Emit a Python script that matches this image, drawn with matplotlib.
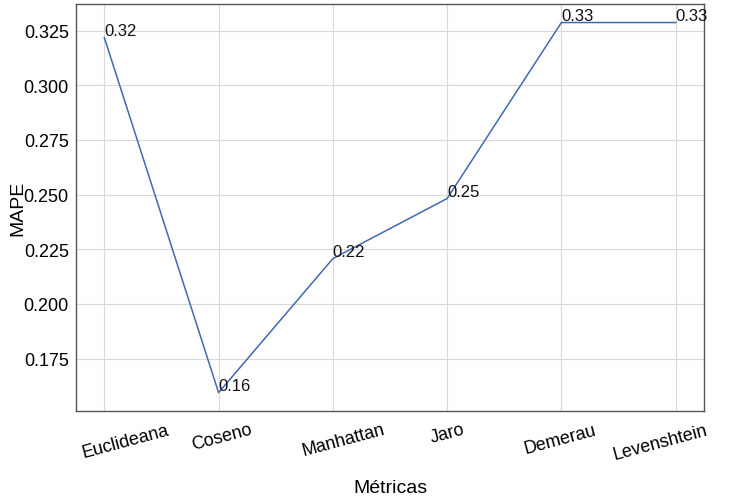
import numpy as np
import matplotlib
matplotlib.use("Agg")
import matplotlib.pyplot as plt
import matplotlib.transforms as mtransforms

plt.rcParams['font.family'] = ['Liberation Sans', 'DejaVu Sans']

metricas = ['Euclideana', 'Coseno', 'Manhattan', 'Jaro', 'Demerau', 'Levenshtein']
mape = [0.3218, 0.1594, 0.2207, 0.2482, 0.3287, 0.3287]

fig, ax = plt.subplots(figsize=(7.5, 5.02), dpi=100)
fig.subplots_adjust(left=0.101, right=0.939, top=0.99, bottom=0.179)

x = np.arange(len(metricas))
ax.plot(x, mape, color='#4169b0', lw=1.1)
for xi, v in zip(x, mape):
    ax.text(xi, v, f'{v:.2f}', ha='left', va='bottom', fontsize=12, color='#111111')

ax.set_xticks(x)
ax.set_xticklabels(metricas, rotation=15, fontsize=13)
ax.tick_params(axis='y', labelsize=13)
ax.tick_params(length=0, pad=5)
ax.tick_params(axis='x', pad=7)
# horizontal nudges (px) so the labels land where they do in the original
nudge = [21, 3, 11, 0, -1, -15]
for lbl, dx in zip(ax.get_xticklabels(), nudge):
    lbl.set_transform(lbl.get_transform() +
                      mtransforms.ScaledTranslation(dx / 100, 0, fig.dpi_scale_trans))
ax.yaxis.set_major_formatter(matplotlib.ticker.FormatStrFormatter('%.3f'))
ax.set_xlabel('Métricas', fontsize=14, labelpad=12)
ax.set_ylabel('MAPE', fontsize=14, labelpad=-2)
ax.grid(True, color='#d9d9d9', lw=0.8)
for s in ax.spines.values():
    s.set_color('#555555')
    s.set_linewidth(1.0)

fig.savefig('out.png', dpi=100)
